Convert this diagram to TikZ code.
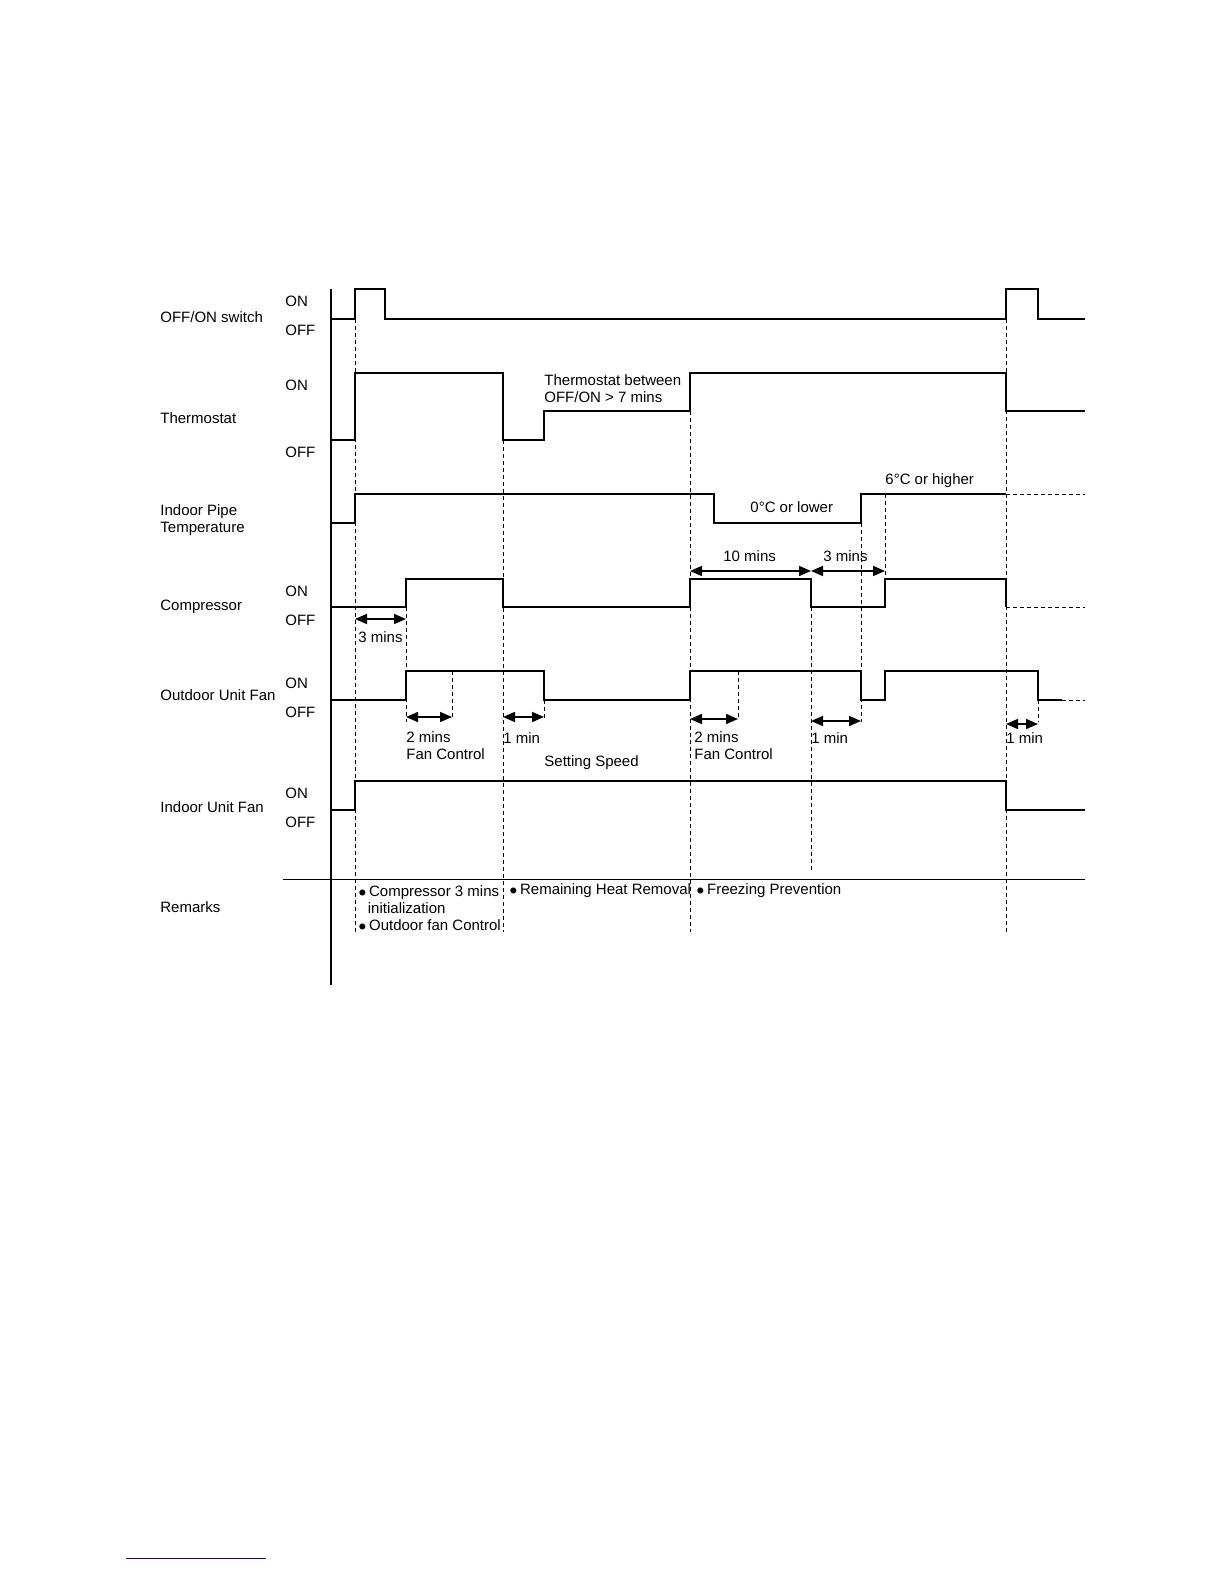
\documentclass[tikz,border=0pt]{standalone}
\usepackage{fontspec}
\setmainfont{Liberation Sans}
\usetikzlibrary{arrows.meta}
\begin{document}
\begin{tikzpicture}[x=0.5pt,y=-0.5pt,
  sig/.style={line width=1.3pt},
  guide/.style={dashed,line width=0.4pt,dash pattern=on 2pt off 1.5pt},
  dur/.style={{Triangle[length=6pt,width=5pt]}-{Triangle[length=6pt,width=5pt]},line width=0.8pt},
  lbl/.style={font=\fontsize{7.5}{8.5}\selectfont,inner sep=0pt},
  lb/.style={lbl,anchor=west,align=left}]
\useasboundingbox (0,0) rectangle (1224,1584);
% axis and remarks line
\draw[line width=0.6pt] (331,289) -- (331,985);
\draw[line width=0.5pt] (283,879) -- (1085,879);
\draw[line width=0.5pt,blue!60!black] (126,1558) -- (266,1558);
% guides
\draw[guide] (355,319) -- (355,932);
\draw[guide] (406,607) -- (406,722);
\draw[guide] (452,671) -- (452,720);
\draw[guide] (503,440) -- (503,932);
\draw[guide] (544,700) -- (544,720);
\draw[guide] (690,411) -- (690,932);
\draw[guide] (738,671) -- (738,720);
\draw[guide] (811,579) -- (811,870);
\draw[guide] (861,523) -- (861,722);
\draw[guide] (885,494) -- (885,579);
\draw[guide] (1006,319) -- (1006,932);
\draw[guide] (1038,700) -- (1038,722);
% signals
\draw[sig] (331,319) -- (355,319) -- (355,289) -- (385,289) -- (385,319) -- (1006,319) -- (1006,289) -- (1038,289) -- (1038,319) -- (1085,319);
\draw[sig] (331,440) -- (355,440) -- (355,373) -- (503,373) -- (503,440) -- (544,440) -- (544,411) -- (690,411) -- (690,373) -- (1006,373) -- (1006,411) -- (1085,411);
\draw[sig] (331,523) -- (355,523) -- (355,494) -- (714,494) -- (714,523) -- (861,523) -- (861,494) -- (1006,494);
\draw[guide] (1006,494) -- (1085,494);
\draw[sig] (331,607) -- (406,607) -- (406,579) -- (503,579) -- (503,607) -- (690,607) -- (690,579) -- (811,579) -- (811,607) -- (885,607) -- (885,579) -- (1006,579) -- (1006,607);
\draw[guide] (1006,607) -- (1085,607);
\draw[sig] (331,700) -- (406,700) -- (406,671) -- (544,671) -- (544,700) -- (690,700) -- (690,671) -- (861,671) -- (861,700) -- (885,700) -- (885,671) -- (1038,671) -- (1038,700) -- (1062,700);
\draw[guide] (1062,700) -- (1085,700);
\draw[sig] (331,810) -- (355,810) -- (355,781) -- (1006,781) -- (1006,810) -- (1085,810);
% duration arrows
\draw[dur] (355,619) -- (406,619);
\draw[dur] (406,717) -- (452,717);
\draw[dur] (503,717) -- (544,717);
\draw[dur] (690,719) -- (738,719);
\draw[dur] (811,721) -- (861,721);
\draw[dur] (1006,724) -- (1038,724);
\draw[dur] (690,571) -- (811,571);
\draw[dur] (811,571) -- (885,571);
% row labels
\node[lb] (l1) at (160,317) {OFF/ON switch};
\node[lb] (l2) at (160,418) {Thermostat};
\node[lb] (l3) at (160,520) {Indoor Pipe\\Temperature};
\node[lb] (l4) at (160,607) {Compressor};
\node[lb] (l5) at (160,695) {Outdoor Unit Fan};
\node[lb] (l6) at (160,807) {Indoor Unit Fan};
\node[lb] (l7) at (160,907) {Remarks};
% on/off
\foreach \n/\y/\t in {a/301/ON,b/330/OFF,c/385/ON,d/452/OFF,e/591/ON,f/620/OFF,g/683/ON,h/712/OFF,i/793/ON,j/822/OFF}
  \node[lb] (s\n) at (285,\y) {\t};
% annotations
\node[lb] (t1) at (544,389) {Thermostat between\\OFF/ON > 7 mins};
\node[lb] (t2) at (750,507) {0°C or lower};
\node[lb] (t3) at (885,481) {6°C or higher};
\node[lb] (t4) at (723,556) {10 mins};
\node[lb] (t5) at (823,556) {3 mins};
\node[lb] (t6) at (358,637) {3 mins};
\node[lb] (t7) at (406,746) {2 mins\\Fan Control};
\node[lb] (t8) at (503,738) {1 min};
\node[lb] (t9) at (544,763) {Setting Speed};
\node[lb] (t10) at (694,746) {2 mins\\Fan Control};
\node[lb] (t11) at (811,738) {1 min};
\node[lb] (t12) at (1006,738) {1 min};
\node[lb] (r1) at (358,908) {$\bullet$\,Compressor 3 mins\\\hspace{1.2ex}initialization\\$\bullet$\,Outdoor fan Control};
\node[lb] (r2) at (509,891) {$\bullet$\,Remaining Heat Removal};
\node[lb] (r3) at (696,891) {$\bullet$\,Freezing Prevention};
\end{tikzpicture}
\end{document}
